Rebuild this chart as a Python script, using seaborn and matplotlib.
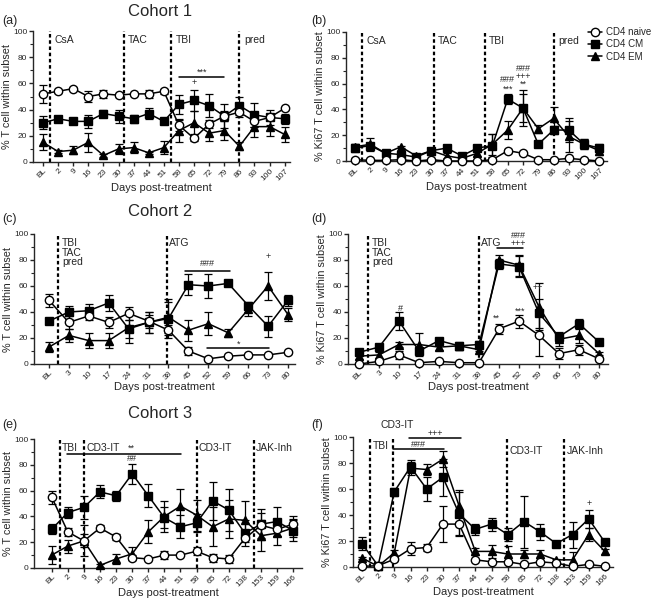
import matplotlib
matplotlib.use("Agg")
import matplotlib.pyplot as plt
import seaborn as sns
import numpy as np
from matplotlib.lines import Line2D
from matplotlib.ticker import MultipleLocator

# ---------------- data ----------------
days_a = ["BL", "2", "9", "16", "23", "30", "37", "44", "51", "58", "65", "72", "79", "86", "93", "100", "107"]
a_naive = [52, 54, 56, 50, 52, 51, 52, 52, 54, 28, 18, 29, 35, 38, 31, 34, 41]
a_naive_err = [7, 1, 1, 4, 3, 1, 1, 3, 2, 4, 2, 3, 4, 4, 4, 2, 1]
a_cm = [30, 33, 31, 31, 37, 35, 33, 37, 31, 44, 47, 43, 35, 43, 36, 34, 33]
a_cm_err = [5, 2, 2, 5, 3, 5, 3, 4, 2, 7, 8, 9, 9, 7, 9, 6, 4]
a_em = [15, 8, 9, 15, 5, 10, 11, 7, 11, 24, 30, 22, 24, 12, 27, 27, 21]
a_em_err = [6, 1, 3, 7, 1, 4, 4, 1, 5, 9, 9, 6, 7, 3, 8, 7, 6]

days_b = days_a
b_naive = [1, 0.5, 0.5, 1, 0, 1, 0, 0, 0, 1, 8, 6, 1, 1, 2, 1, 0]
b_naive_err = [1, 0.5, 0.5, 0.5, 0.5, 0.5, 0.5, 0.5, 0.5, 1, 1.5, 1, 0.5, 0.5, 0.5, 0.5, 0.5]
b_cm = [10, 12, 6, 5, 3, 8, 10, 4, 10, 12, 48, 41, 13, 24, 24, 13, 10]
b_cm_err = [3, 2, 1, 2, 1, 2, 1, 1, 2, 9, 4, 14, 1, 3, 9, 4, 3]
b_em = [11, 13, 6, 11, 4, 8, 4, 2, 6, 13, 24, 41, 25, 33, 19, 13, 8]
b_em_err = [2, 5, 1, 1, 1, 2, 2, 1, 2, 8, 7, 11, 3, 9, 12, 4, 3]

days_c = ["BL", "3", "10", "17", "24", "31", "38", "45", "52", "59", "66", "73", "80"]
c_naive = [49, 32, 37, 32, 39, 33, 26, 10, 4, 6, 7, 7, 9]
c_naive_err = [5, 5, 3, 4, 5, 5, 4, 3, 1, 1, 1, 1, 1]
c_cm = [33, 40, 41, 47, 27, 32, 35, 61, 60, 62, 45, 29, 49]
c_cm_err = [2, 5, 5, 6, 7, 8, 15, 8, 9, 1, 3, 8, 4]
c_em = [13, 22, 18, 18, 28, 32, 36, 26, 31, 24, 42, 60, 38]
c_em_err = [4, 5, 6, 6, 12, 8, 12, 8, 9, 3, 5, 11, 5]

days_d = days_c
d_naive = [0, 2, 7, 1, 2, 1, 1, 27, 33, 22, 8, 11, 4]
d_naive_err = [0.5, 1, 3, 0.5, 1, 0.5, 0.5, 4, 5, 16, 4, 4, 1]
d_cm = [9, 13, 33, 10, 18, 14, 15, 77, 75, 39, 21, 31, 17]
d_cm_err = [1, 1, 7, 2, 2, 3, 3, 4, 8, 11, 4, 4, 2]
d_em = [6, 7, 15, 15, 13, 14, 11, 80, 76, 44, 19, 22, 8]
d_em_err = [2, 2, 2, 9, 2, 2, 1, 4, 8, 18, 5, 6, 1]

days_e = ["BL", "2", "9", "16", "23", "30", "37", "44", "51", "58", "65", "72", "138", "153", "159", "166"]
e_naive = [55, 28, 21, 31, 24, 8, 7, 10, 10, 13, 8, 7, 23, 33, 30, 34]
e_naive_err = [5, 3, 5, 2, 2, 2, 1, 3, 1, 3, 3, 3, 3, 10, 5, 6]
e_cm = [30, 43, 47, 59, 56, 73, 56, 39, 32, 35, 52, 45, 27, 34, 36, 29]
e_cm_err = [4, 4, 9, 5, 4, 8, 9, 8, 9, 7, 15, 16, 10, 12, 11, 8]
e_em = [10, 17, 21, 2, 7, 11, 28, 40, 48, 41, 32, 38, 37, 25, 27, 31]
e_em_err = [7, 5, 12, 1, 4, 5, 9, 12, 13, 12, 15, 15, 15, 12, 9, 7]

days_f = days_e
f_naive = [0.5, 1, 6, 14, 15, 33, 33, 5.5, 4, 4, 2, 4, 3, 0.5, 2, 0.5]
f_naive_err = [0.5, 0.5, 1, 5, 3, 14, 8, 1, 1, 1, 0.5, 1, 0.5, 0.5, 0.5, 0.5]
f_cm = [18, 1, 58, 77, 60, 69, 41, 29, 33, 25, 35, 27, 18, 25, 37, 19]
f_cm_err = [5, 1, 3, 5, 9, 14, 17, 4, 5, 5, 20, 6, 1, 10, 7, 2]
f_em = [7, 0.5, 11, 76, 75, 83, 47, 12, 12, 10, 10, 10, 5.5, 5.5, 25, 12]
f_em_err = [1, 0.5, 2, 5, 4, 6, 12, 3, 5, 6, 3, 3, 1, 6, 5, 2]

subsets = ["CD4 naive", "CD4 CM", "CD4 EM"]

# ---------------- style ----------------
sns.set_style("ticks")
plt.rcParams["font.family"] = ["Liberation Sans", "DejaVu Sans"]
plt.rcParams["axes.linewidth"] = 1.0

fig = plt.figure(figsize=(6.51, 5.99), dpi=100)
W, H = 651.0, 599.0


def add_ax(x0, x1, ytop, ybot):
    return fig.add_axes([x0 / W, 1 - ybot / H, (x1 - x0) / W, (ybot - ytop) / H])


STY = {
    "CD4 naive": dict(marker="o", markerfacecolor="white", ms=6, z=4),
    "CD4 CM": dict(marker="s", markerfacecolor="black", ms=5.5, z=3),
    "CD4 EM": dict(marker="^", markerfacecolor="black", ms=5.5, z=3),
}


def draw(ax, cats, series, xlim, ylabel, vlines, labels, annots, hlines):
    x = np.arange(len(cats))
    for name, y, err in series:
        s = STY[name]
        ax.errorbar(x, y, yerr=err, fmt="none", ecolor="black", elinewidth=0.9,
                    capsize=3, capthick=0.9, clip_on=False, zorder=2)
        sns.lineplot(x=x, y=y, ax=ax, color="black", marker=s["marker"],
                     markersize=s["ms"], markerfacecolor=s["markerfacecolor"],
                     markeredgecolor="black", markeredgewidth=1.0, linewidth=1.1,
                     errorbar=None, legend=False, clip_on=False, zorder=s["z"])
    for vx in vlines:
        ax.plot([vx, vx], [0, 100], color="black", lw=1.6,
                linestyle=(0, (1.6, 1.2)), clip_on=False, zorder=1)
    for (tx, ty, t) in labels:
        ax.text(tx, ty, t, fontsize=7.5, va="top", ha="left", linespacing=0.95)
    for (tx, ty, t) in annots:
        ax.text(tx, ty, t, fontsize=6.5, va="center", ha="center", clip_on=False)
    for (h0, h1, hy) in hlines:
        ax.plot([h0, h1], [hy, hy], color="black", lw=1.1, clip_on=False)
    ax.set_xlim(*xlim)
    ax.set_ylim(0, 100)
    ax.set_xticks(x)
    ax.set_xticklabels(cats, rotation=45, ha="right", rotation_mode="anchor", fontsize=6)
    ax.set_yticks([0, 20, 40, 60, 80, 100])
    ax.yaxis.set_minor_locator(MultipleLocator(10))
    ax.tick_params(axis="y", labelsize=6, length=3, width=1, pad=1)
    ax.tick_params(axis="y", which="minor", length=2, width=0.8)
    ax.tick_params(axis="x", length=3, width=1, pad=1)
    ax.set_xlabel("Days post-treatment", fontsize=8, labelpad=0)
    ax.set_ylabel(ylabel, fontsize=7.8, labelpad=1)
    sns.despine(ax=ax)


yl_t = "% T cell within subset"
yl_k = "% Ki67 T cell within subset"

ax_a = add_ax(33, 290, 31, 162)
draw(ax_a, days_a,
     [("CD4 EM", a_em, a_em_err), ("CD4 CM", a_cm, a_cm_err), ("CD4 naive", a_naive, a_naive_err)],
     (-0.66, 16.35), yl_t,
     [0.45, 5.35, 8.5, 13.0],
     [(0.75, 97, "CsA"), (5.6, 97, "TAC"), (8.8, 97, "TBI"), (13.3, 97, "pred")],
     [(10.5, 68.5, "***"), (10.0, 60.5, "+")],
     [(9.0, 12.0, 65)])

ax_b = add_ax(346, 607, 32, 161)
draw(ax_b, days_b,
     [("CD4 EM", b_em, b_em_err), ("CD4 CM", b_cm, b_cm_err), ("CD4 naive", b_naive, b_naive_err)],
     (-0.59, 16.5), yl_k,
     [0.45, 5.2, 8.5, 13.0],
     [(0.75, 97, "CsA"), (5.45, 97, "TAC"), (8.75, 97, "TBI"), (13.3, 97, "pred")],
     [(10.0, 56, "***"), (10.0, 63, "###"), (11.0, 59.5, "**"), (11.0, 65.5, "+++"), (11.0, 71.5, "###")],
     [])

ax_c = add_ax(34, 295, 234, 364)
draw(ax_c, days_c,
     [("CD4 EM", c_em, c_em_err), ("CD4 CM", c_cm, c_cm_err), ("CD4 naive", c_naive, c_naive_err)],
     (-0.75, 12.35), yl_t,
     [0.45, 5.92],
     [(0.65, 97, "TBI\nTAC\npred"), (6.05, 97, "ATG")],
     [(7.95, 77.5, "###"), (11.0, 83, "+"), (9.5, 15.5, "*")],
     [(6.85, 9.1, 71.5), (7.95, 11.05, 12.3)])

ax_d = add_ax(348, 608, 234, 364)
draw(ax_d, days_d,
     [("CD4 EM", d_em, d_em_err), ("CD4 CM", d_cm, d_cm_err), ("CD4 naive", d_naive, d_naive_err)],
     (-0.55, 12.45), yl_k,
     [0.45, 6.0],
     [(0.65, 97, "TBI\nTAC\npred"), (6.1, 97, "ATG")],
     [(7.95, 98.5, "###"), (7.95, 92.5, "+++"), (2.05, 43, "#"), (6.85, 35.5, "**"),
      (8.05, 40.5, "***"), (8.95, 58.5, "++")],
     [(6.9, 8.2, 89)])

ax_e = add_ax(34, 302, 439, 568)
draw(ax_e, days_e,
     [("CD4 EM", e_em, e_em_err), ("CD4 CM", e_cm, e_cm_err), ("CD4 naive", e_naive, e_naive_err)],
     (-1.1, 15.55), yl_t,
     [0.5, 2.0, 9.0, 12.55],
     [(0.65, 97, "TBI"), (2.15, 97, "CD3-IT"), (9.15, 97, "CD3-IT"), (12.7, 97, "JAK-Inh")],
     [(4.95, 92.5, "**"), (5.0, 84.5, "##")],
     [(0.95, 8.05, 88.5)])

ax_f = add_ax(353, 613, 437, 567)
draw(ax_f, days_f,
     [("CD4 EM", f_em, f_em_err), ("CD4 CM", f_cm, f_cm_err), ("CD4 naive", f_naive, f_naive_err)],
     (-0.55, 15.5), yl_k,
     [0.47, 1.95, 8.95, 12.47],
     [(0.65, 97, "TBI"), (9.1, 93, "CD3-IT"), (12.62, 93, "JAK-Inh")],
     [(4.5, 103, "+++"), (3.5, 94.5, "###"), (14.0, 49, "+")],
     [(2.9, 6.1, 99.5), (1.95, 5.05, 90.5)])
ax_f.text(2.2, 109, "CD3-IT", fontsize=7.5, ha="center", va="center", clip_on=False)

# titles and panel letters
fig.text(160 / W, 1 - 11 / H, "Cohort 1", fontsize=12, ha="center", va="center")
fig.text(160 / W, 1 - 212 / H, "Cohort 2", fontsize=12, ha="center", va="center")
fig.text(160 / W, 1 - 414 / H, "Cohort 3", fontsize=12, ha="center", va="center")
for lx, ly, lt in [(2, 21, "(a)"), (311, 21, "(b)"), (2, 219, "(c)"), (311, 219, "(d)"),
                   (2, 425, "(e)"), (311, 425, "(f)")]:
    fig.text(lx / W, 1 - ly / H, lt, fontsize=9, ha="left", va="center")

handles = [
    Line2D([], [], color="black", lw=1.1, marker="o", markerfacecolor="white",
           markeredgecolor="black", ms=6),
    Line2D([], [], color="black", lw=1.1, marker="s", markerfacecolor="black", ms=5.5),
    Line2D([], [], color="black", lw=1.1, marker="^", markerfacecolor="black", ms=5.5),
]
fig.legend(handles, subsets, loc="upper left", bbox_to_anchor=(588 / W, 1 - 27 / H),
           frameon=False, fontsize=7, handlelength=1.4, handletextpad=0.4,
           labelspacing=0.25, borderpad=0, borderaxespad=0)

fig.savefig("out.png", dpi=100)
